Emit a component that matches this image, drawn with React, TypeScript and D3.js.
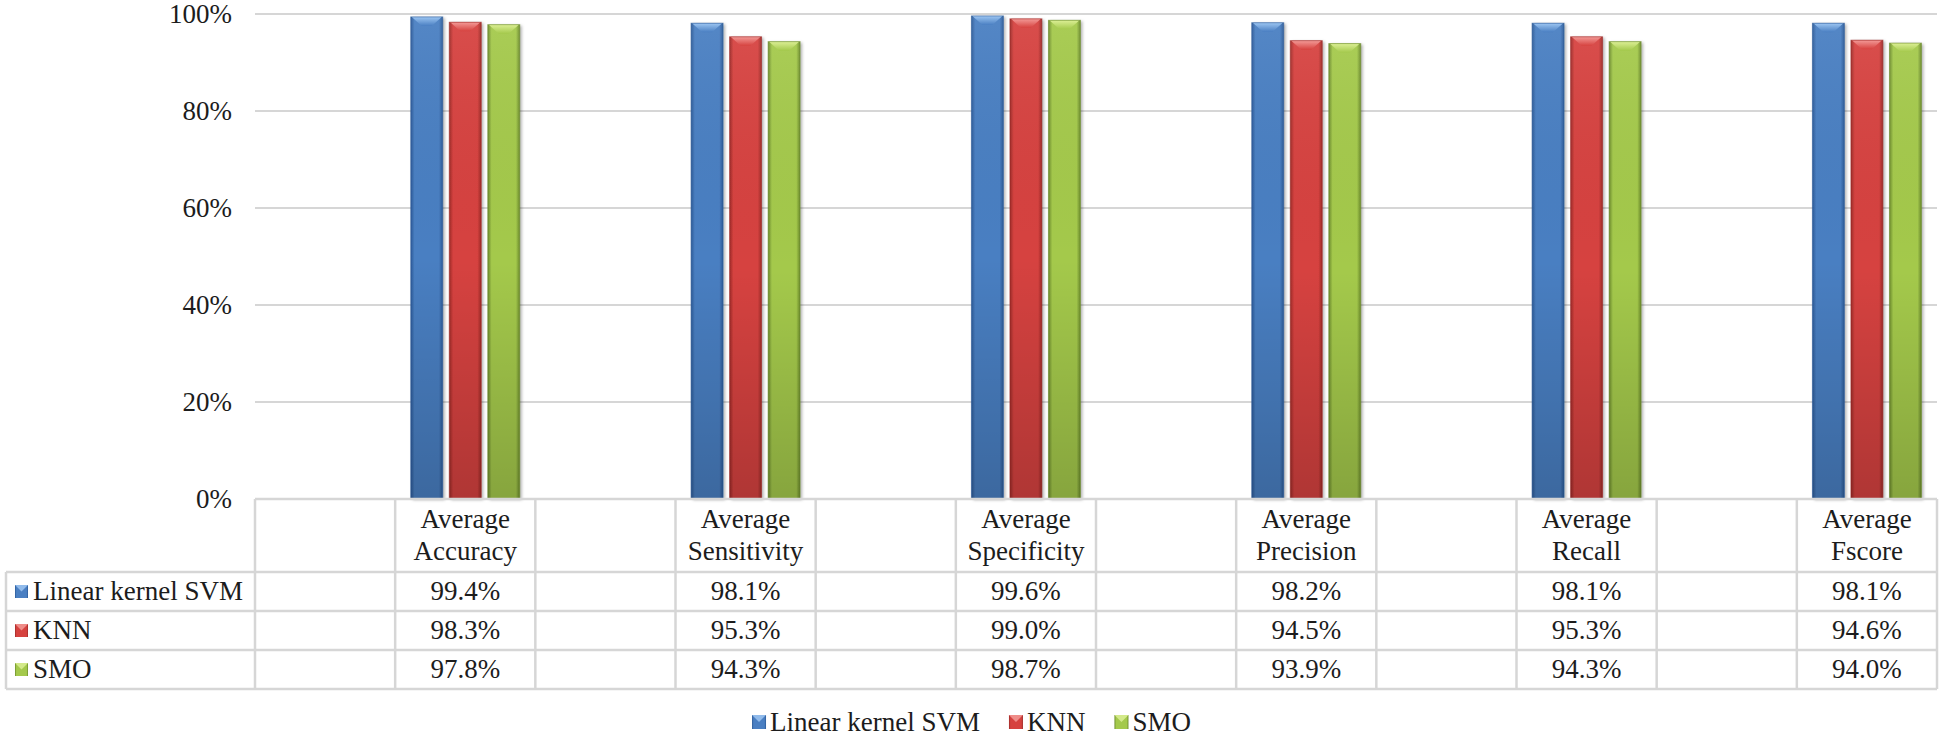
import { useEffect } from "react";
import * as d3 from "d3";

const categories = [
  "Average Accuracy",
  "Average Sensitivity",
  "Average Specificity",
  "Average Precision",
  "Average Recall",
  "Average Fscore",
];
const seriesNames = ["Linear kernel SVM", "KNN", "SMO"];
const svmValues = [99.4, 98.1, 99.6, 98.2, 98.1, 98.1];
const knnValues = [98.3, 95.3, 99.0, 94.5, 95.3, 94.6];
const smoValues = [97.8, 94.3, 98.7, 93.9, 94.3, 94.0];
const yTicks = [0, 20, 40, 60, 80, 100];

// base / dark edge / light bevel for each series
const palette = [
  { base: "#4a7fc2", dark: "#2b5a97", light: "#9dc6f2" },
  { base: "#d6423f", dark: "#9c2a28", light: "#f39a97" },
  { base: "#a4c94c", dark: "#6b8a2b", light: "#dcef95" },
];

const W = 1943;
const H = 741;
const FONT = "'Liberation Serif', 'Times New Roman', serif";
const FS = 27;

export default function App() {
  useEffect(() => {
    document.body.style.margin = "0";
    document.body.style.overflow = "hidden";
  }, []);

  const values = [svmValues, knnValues, smoValues];
  const plotLeft = 255;
  const plotRight = 1937;
  const plotTop = 14;
  const plotBottom = 499;
  const headerBottom = 572;
  const rowH = 39;
  const tableLeft = 6;
  const tableBottom = headerBottom + rowH * seriesNames.length;

  // every category sits after an empty column, like the source table
  const slots = categories.flatMap((c, i) => [`gap${i}`, c]);
  const x = d3.scaleBand<string>().domain(slots).range([plotLeft, plotRight]);
  const groupW = 109;
  const sub = d3
    .scaleBand<string>()
    .domain(seriesNames)
    .range([0, groupW])
    .paddingInner(0.17);
  const y = d3.scaleLinear().domain([0, 100]).range([plotBottom, plotTop]);

  const lineColor = "#d6d6d6";
  const textColor = "#1c1c1c";
  const txt = { fontFamily: FONT, fontSize: FS } as const;

  const measure = (t: string) => {
    const ctx = document.createElement("canvas").getContext("2d");
    if (!ctx) return t.length * 12;
    ctx.font = `${FS}px ${FONT}`;
    return ctx.measureText(t).width;
  };

  // bottom legend layout
  const iconW = 14;
  const iconGap = 4;
  const itemGap = 29;
  const widths = seriesNames.map((s) => iconW + iconGap + measure(s));
  const legendTotal = d3.sum(widths) + itemGap * (widths.length - 1);
  let lx = W / 2 - legendTotal / 2;
  const legendItems = seriesNames.map((s, i) => {
    const item = { name: s, x: lx, i };
    lx += widths[i] + itemGap;
    return item;
  });
  const legendY = 722;

  const icon = (i: number, ix: number, cy: number, size: number) => (
    <g key={`ic${i}-${ix}-${cy}`}>
      <rect
        x={ix}
        y={cy - size / 2}
        width={size}
        height={size}
        fill={`url(#h${i})`}
      />
      <polygon
        points={`${ix},${cy - size / 2} ${ix + size},${cy - size / 2} ${
          ix + size / 2
        },${cy}`}
        fill={palette[i].light}
        opacity={0.85}
      />
    </g>
  );

  return (
    <svg
      width={W}
      height={H}
      style={{ position: "absolute", left: 0, top: 0, background: "#fff" }}
    >
      <defs>
        {palette.map((p, i) => (
          <linearGradient key={i} id={`h${i}`} x1="0" x2="1" y1="0" y2="0">
            <stop offset="0" stopColor={p.dark} />
            <stop offset="0.12" stopColor={p.base} />
            <stop offset="0.88" stopColor={p.base} />
            <stop offset="1" stopColor={p.dark} />
          </linearGradient>
        ))}
        {palette.map((p, i) => (
          <linearGradient key={i} id={`t${i}`} x1="0" x2="0" y1="0" y2="1">
            <stop offset="0" stopColor={p.light} />
            <stop offset="1" stopColor={p.base} />
          </linearGradient>
        ))}
        <linearGradient id="vshade" x1="0" x2="0" y1="0" y2="1">
          <stop offset="0" stopColor="#fff" stopOpacity={0.06} />
          <stop offset="0.5" stopColor="#000" stopOpacity={0} />
          <stop offset="1" stopColor="#000" stopOpacity={0.18} />
        </linearGradient>
        <filter id="shadow" x="-30%" y="-5%" width="160%" height="110%">
          <feDropShadow
            dx="2"
            dy="1"
            stdDeviation="1.8"
            floodColor="#000"
            floodOpacity="0.3"
          />
        </filter>
      </defs>

      {/* gridlines + y axis */}
      {yTicks
        .filter((t) => t > 0)
        .map((t) => (
          <line
            key={t}
            x1={plotLeft}
            x2={plotRight}
            y1={y(t)}
            y2={y(t)}
            stroke={lineColor}
            strokeWidth={2}
          />
        ))}
      {yTicks.map((t) => (
        <text
          key={t}
          x={232}
          y={y(t)}
          dy="0.33em"
          textAnchor="end"
          style={txt}
          fill={textColor}
        >
          {`${t}%`}
        </text>
      ))}

      {/* bars */}
      {categories.map((c, ci) => {
        const gx = (x(c) ?? 0) + (x.bandwidth() - groupW) / 2;
        return (
          <g key={c}>
            {seriesNames.map((s, si) => {
              const bx = gx + (sub(s) ?? 0);
              const bw = sub.bandwidth();
              const v = values[si][ci];
              const top = y(v);
              const h = y(0) - top;
              const bev = 9;
              return (
                <g key={s}>
                  <rect
                    x={bx}
                    y={top}
                    width={bw}
                    height={h}
                    fill={`url(#h${si})`}
                    filter="url(#shadow)"
                  />
                  <rect
                    x={bx}
                    y={top}
                    width={bw}
                    height={h}
                    fill="url(#vshade)"
                  />
                  <polygon
                    points={`${bx + 1},${top} ${bx + bw - 1},${top} ${
                      bx + bw - bev - 2
                    },${top + bev} ${bx + bev + 2},${top + bev}`}
                    fill={`url(#t${si})`}
                  />
                  <rect
                    x={bx}
                    y={top}
                    width={bw}
                    height={h}
                    fill="none"
                    stroke={palette[si].dark}
                    strokeOpacity={0.6}
                    strokeWidth={1}
                  />
                </g>
              );
            })}
          </g>
        );
      })}

      {/* data table */}
      <g stroke={lineColor} strokeWidth={2.5} fill="none">
        <line x1={plotLeft} x2={plotRight} y1={plotBottom} y2={plotBottom} />
        {d3.range(seriesNames.length + 1).map((r) => (
          <line
            key={r}
            x1={tableLeft}
            x2={plotRight}
            y1={headerBottom + r * rowH}
            y2={headerBottom + r * rowH}
          />
        ))}
        <line x1={tableLeft} x2={tableLeft} y1={headerBottom} y2={tableBottom} />
        {slots.map((s) => (
          <line
            key={s}
            x1={x(s) ?? 0}
            x2={x(s) ?? 0}
            y1={plotBottom}
            y2={tableBottom}
          />
        ))}
        <line x1={plotRight} x2={plotRight} y1={plotBottom} y2={tableBottom} />
      </g>

      {categories.map((c) => {
        const cx = (x(c) ?? 0) + x.bandwidth() / 2;
        const [l1, ...rest] = c.split(" ");
        return (
          <text key={c} textAnchor="middle" style={txt} fill={textColor}>
            <tspan x={cx} y={528}>
              {l1}
            </tspan>
            <tspan x={cx} y={560}>
              {rest.join(" ")}
            </tspan>
          </text>
        );
      })}

      {seriesNames.map((s, si) => {
        const cy = headerBottom + rowH * si + rowH / 2;
        return (
          <g key={s}>
            {icon(si, 15, cy, 13)}
            <text x={33} y={cy} dy="0.33em" style={txt} fill={textColor}>
              {s}
            </text>
            {categories.map((c, ci) => (
              <text
                key={c}
                x={(x(c) ?? 0) + x.bandwidth() / 2}
                y={cy}
                dy="0.33em"
                textAnchor="middle"
                style={txt}
                fill={textColor}
              >
                {`${values[si][ci].toFixed(1)}%`}
              </text>
            ))}
          </g>
        );
      })}

      {/* legend */}
      {legendItems.map((it) => (
        <g key={it.name}>
          {icon(it.i, it.x, legendY, iconW)}
          <text
            x={it.x + iconW + iconGap}
            y={legendY}
            dy="0.33em"
            style={txt}
            fill={textColor}
          >
            {it.name}
          </text>
        </g>
      ))}
    </svg>
  );
}
